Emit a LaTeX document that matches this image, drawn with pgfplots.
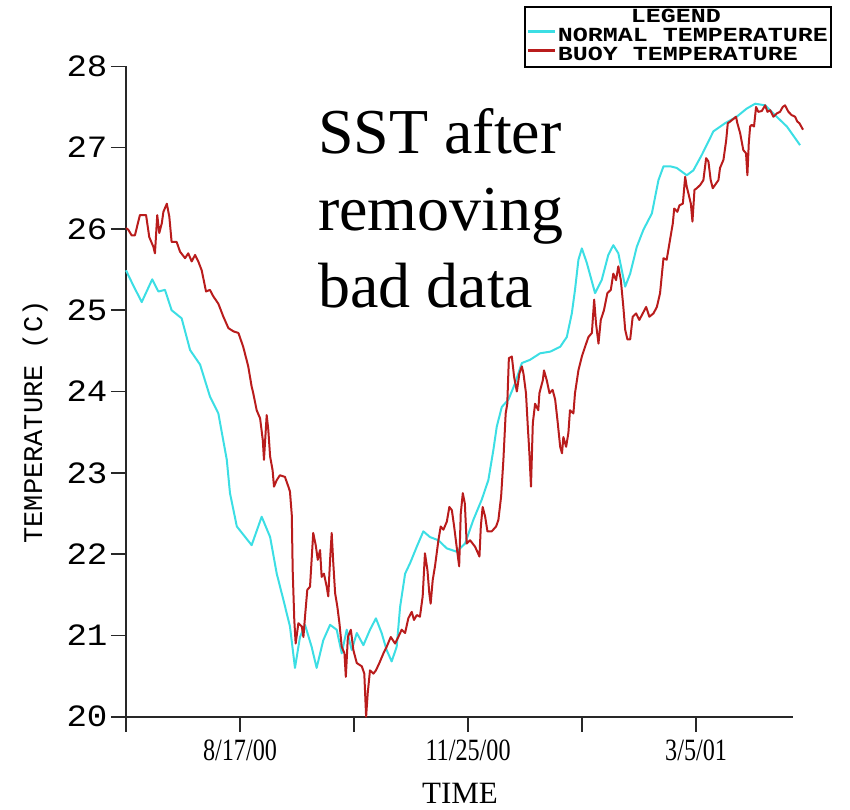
\documentclass[border=0pt]{standalone}
\usepackage{pgfplots}
\pgfplotsset{compat=1.18}
\usepackage{fontspec}
\setmainfont{Liberation Serif}
\newfontfamily\monofont[FakeStretch=1.1]{Liberation Mono}
\newfontfamily\ylabfont{Liberation Mono}
\newfontfamily\legfont[FakeStretch=1.25]{Liberation Mono}
\newfontfamily\tickfont[FakeStretch=0.78]{Liberation Serif}
\definecolor{normc}{RGB}{60,222,228}
\definecolor{buoyc}{RGB}{185,28,28}
\definecolor{axc}{RGB}{40,40,40}
\begin{document}
\begin{tikzpicture}
\path[use as bounding box] (-126pt,-92.3pt) rectangle (724pt,716.7pt);
\begin{axis}[
 at={(0pt,0pt)}, anchor=south west,
 scale only axis, width=667pt, height=650.4pt,
 xmin=-50, xmax=242.5, ymin=20, ymax=28,
 axis x line=bottom, axis y line=left,
 axis line style={-, line width=2pt, axc},
 clip=false,
 tick align=outside,
 major tick length=15pt,
 tick style={line width=1.6pt, axc},
 xtick={-50,0,50,100,150,200},
 xticklabels={,8/17/00,,11/25/00,,3/5/01},
 ytick={20,21,22,23,24,25,26,27,28},
 /pgf/number format/assume math mode=true,
 yticklabel style={font=\monofont\fontsize{31}{31}\selectfont},
 xticklabel style={font=\tickfont\fontsize{31}{31}\selectfont, yshift=-5pt},
 xlabel={TIME},
 ylabel={TEMPERATURE (C)},
 xlabel style={font=\fontsize{31}{31}\selectfont, inner sep=0pt, at={(axis description cs:0.5007,-0.1175)}, anchor=center},
 ylabel style={font=\ylabfont\fontsize{27}{27}\selectfont, at={(axis description cs:-0.1364,0.453)}, anchor=center},
 legend style={at={(axis description cs:0.5967,1.0927)}, anchor=north west,
   font=\legfont\bfseries\fontsize{20}{20}\selectfont, draw=black, line width=1.5pt,
   inner sep=2pt, nodes={inner sep=1pt, text height=13pt, text depth=3pt}, row sep=1pt},
 legend cell align=left,
 legend image code/.code={\draw[#1, line width=3pt] (0pt,5pt) -- (27pt,5pt);},
]
\addlegendimage{empty legend}
\addlegendentry{\hspace{73pt}LEGEND}
\addplot[normc, line width=2pt, line join=round] coordinates {
(-50.0,25.49) (-46.9,25.31) (-43.1,25.10) (-38.5,25.38) (-35.8,25.23) (-32.9,25.25)
(-30.0,25.00) (-25.6,24.90) (-21.9,24.51) (-17.5,24.33) (-13.2,23.94) (-9.5,23.73)
(-5.8,23.16) (-4.4,22.75) (-1.4,22.34) (5.1,22.11) (9.5,22.46) (13.2,22.21)
(16.1,21.76) (19.0,21.44) (21.9,21.11) (24.1,20.60) (26.3,20.98) (28.5,21.13)
(31.4,20.86) (33.6,20.60) (36.5,20.94) (39.5,21.13) (42.4,21.07) (44.6,20.78)
(46.8,21.07) (49.0,20.82) (51.2,21.03) (54.1,20.88) (57.0,21.07) (59.6,21.21)
(62.1,21.03) (64.3,20.82) (66.5,20.68) (68.7,20.86) (70.2,21.35) (72.4,21.76)
(74.6,21.89) (77.5,22.09) (80.4,22.28) (83.3,22.21) (87.0,22.17) (90.7,22.07)
(95.0,22.03) (98.7,22.13) (102.3,22.42) (106.0,22.67) (108.9,22.91) (111.1,23.28)
(112.6,23.57) (114.8,23.81) (117.7,23.90) (120.6,24.10) (123.6,24.35) (127.2,24.39)
(131.6,24.47) (136.0,24.49) (140.4,24.55) (143.3,24.67) (145.5,24.96) (146.9,25.25)
(148.4,25.62) (149.9,25.76) (152.1,25.58) (155.7,25.21) (158.6,25.37) (161.5,25.68)
(163.7,25.80) (165.9,25.70) (168.9,25.29) (171.1,25.45) (174.0,25.78) (176.9,25.99)
(180.6,26.19) (183.5,26.60) (185.7,26.77) (188.6,26.77) (191.5,26.75) (195.9,26.66)
(198.8,26.72) (202.5,26.91) (207.6,27.20) (212.7,27.30) (217.8,27.38) (222.2,27.48)
(225.9,27.54) (230.3,27.52) (234.6,27.40) (239.8,27.26) (245.6,27.03)
};
\addlegendentry{NORMAL TEMPERATURE}
\addplot[buoyc, line width=2pt, line join=round] coordinates {
(-50.0,26.01) (-49.0,25.99) (-47.5,25.92) (-46.1,25.92) (-43.9,26.17) (-41.2,26.17)
(-39.8,25.90) (-38.0,25.78) (-37.3,25.70) (-36.3,26.17) (-35.4,25.95) (-34.3,26.07)
(-33.6,26.21) (-32.1,26.31) (-31.0,26.15) (-30.0,25.84) (-27.8,25.84) (-26.3,25.72)
(-24.1,25.64) (-22.7,25.70) (-21.2,25.60) (-19.7,25.68) (-18.3,25.60) (-16.8,25.49)
(-14.9,25.23) (-13.2,25.25) (-11.7,25.17) (-9.5,25.08) (-7.3,24.92) (-5.1,24.78)
(-2.9,24.74) (-0.7,24.72) (1.4,24.55) (3.6,24.31) (5.1,24.06) (5.8,23.98)
(7.3,23.77) (8.8,23.67) (10.0,23.40) (10.5,23.16) (11.7,23.71) (12.4,23.53)
(13.2,23.20) (14.3,23.03) (14.9,22.83) (16.1,22.91) (17.5,22.97) (19.7,22.95)
(21.2,22.83) (21.9,22.77) (22.7,22.48) (23.1,21.80) (23.8,21.19) (24.4,20.90)
(25.6,21.15) (27.1,21.11) (27.8,20.98) (28.5,21.23) (29.5,21.56) (30.7,21.60)
(31.4,21.93) (32.1,22.26) (33.2,22.11) (34.1,21.93) (35.1,22.05) (35.8,21.72)
(36.8,21.76) (38.0,21.60) (38.7,21.48) (39.5,21.93) (40.2,22.26) (40.9,21.89)
(41.7,21.52) (42.7,21.35) (43.6,21.15) (44.6,20.86) (45.8,20.78) (46.4,20.49)
(47.3,20.98) (48.6,21.07) (49.7,20.82) (51.2,20.66) (53.4,20.62) (54.5,20.53)
(55.3,20.00) (56.0,20.29) (57.0,20.57) (58.5,20.53) (59.6,20.57) (61.1,20.66)
(62.9,20.78) (64.3,20.86) (66.1,20.98) (68.0,20.90) (69.4,20.98) (70.9,21.07)
(72.4,21.03) (73.8,21.21) (75.3,21.29) (76.3,21.19) (77.5,21.25) (78.9,21.23)
(80.1,21.48) (81.1,22.01) (82.2,21.80) (83.0,21.52) (83.6,21.39) (84.5,21.68)
(85.5,21.85) (87.0,22.17) (88.0,22.34) (89.2,22.30) (90.7,22.40) (91.8,22.58)
(92.9,22.54) (93.9,22.34) (95.0,22.09) (96.1,21.85) (96.8,22.50) (97.7,22.75)
(98.6,22.62) (99.4,22.13) (100.9,22.17) (103.1,22.09) (105.0,21.97) (105.6,22.34)
(106.4,22.58) (107.5,22.46) (108.5,22.28) (110.4,22.28) (112.3,22.34) (113.3,22.42)
(114.5,22.71) (115.5,23.16) (116.5,23.73) (117.2,23.85) (117.9,24.41) (119.2,24.43)
(120.2,24.18) (121.4,24.00) (122.5,24.22) (123.6,24.31) (124.3,24.22) (125.4,23.98)
(126.2,23.57) (126.9,23.24) (127.6,22.83) (128.4,23.61) (129.4,23.85) (130.8,23.77)
(131.3,23.98) (132.8,24.14) (133.3,24.26) (134.5,24.14) (135.7,23.98) (137.1,24.02)
(138.2,23.90) (139.2,23.65) (140.4,23.32) (141.2,23.24) (141.8,23.44) (143.0,23.32)
(144.0,23.49) (144.7,23.77) (146.2,23.73) (146.9,23.98) (148.4,24.26) (149.9,24.43)
(151.3,24.55) (152.8,24.67) (154.3,24.72) (155.3,25.13) (156.1,24.84) (157.2,24.59)
(158.2,24.88) (159.6,25.00) (161.1,25.21) (162.6,25.25) (163.7,25.45) (164.9,25.37)
(165.9,25.54) (167.0,25.37) (168.1,25.04) (168.9,24.76) (169.9,24.64) (171.1,24.64)
(172.2,24.92) (173.7,24.96) (175.1,24.88) (176.6,24.96) (178.1,25.04) (179.5,24.92)
(181.3,24.96) (182.8,25.04) (184.2,25.21) (185.7,25.64) (187.1,25.62) (188.3,25.82)
(189.8,26.07) (190.4,26.25) (191.8,26.21) (192.7,26.29) (194.2,26.31) (195.2,26.64)
(195.9,26.52) (196.6,26.44) (197.7,26.31) (198.4,26.09) (199.3,26.48) (200.3,26.50)
(201.8,26.54) (203.2,26.60) (204.4,26.87) (205.4,26.83) (206.4,26.60) (207.3,26.50)
(208.3,26.54) (209.8,26.60) (210.5,26.75) (212.0,26.85) (213.2,27.09) (213.9,27.30)
(214.9,27.32) (216.7,27.36) (217.5,27.38) (218.1,27.30) (219.3,27.18) (220.7,26.97)
(221.9,26.93) (222.5,26.66) (223.1,27.05) (223.7,27.26) (224.4,27.28) (225.4,27.26)
(226.3,27.50) (227.3,27.44) (228.8,27.45) (230.3,27.52) (231.3,27.44) (232.5,27.46)
(233.9,27.38) (235.4,27.42) (236.8,27.44) (238.0,27.50) (239.0,27.52) (240.5,27.44)
(241.9,27.40) (243.4,27.38) (244.4,27.32) (245.3,27.30) (246.9,27.22)
};
\addlegendentry{BUOY TEMPERATURE}
\node[anchor=north west, inner sep=0pt, align=left, font=\fontsize{64}{77}\selectfont]
  at (axis description cs:0.2879,0.9359) {SST after\\removing\\bad data};
\end{axis}
\end{tikzpicture}
\end{document}
